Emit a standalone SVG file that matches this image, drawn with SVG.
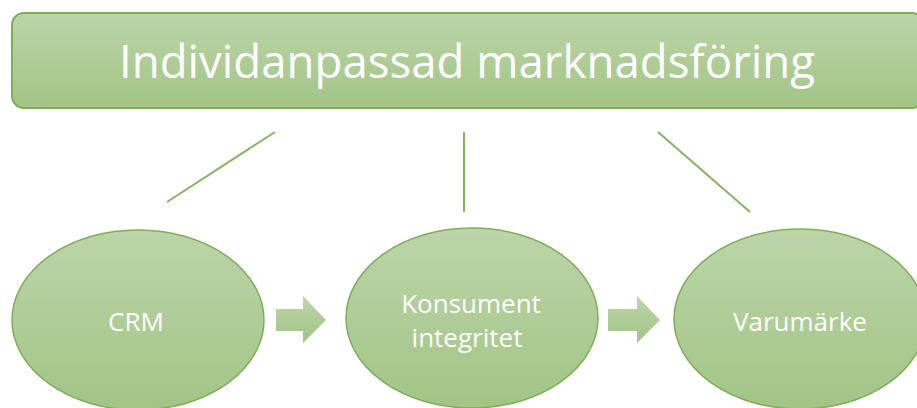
<svg xmlns="http://www.w3.org/2000/svg" width="917" height="408" viewBox="0 0 917 408">
<defs>
<linearGradient id="g" x1="0" y1="0" x2="0" y2="1">
<stop offset="0" stop-color="#bcd5a9"/>
<stop offset="1" stop-color="#a2c586"/>
</linearGradient>
<style>
.box{fill:url(#g);stroke:#7eae58;stroke-width:2}
.ell{fill:url(#g);stroke:#7eae58;stroke-width:1.5}
.arrow{fill:url(#g)}
.conn{stroke:#84b562;stroke-width:2;fill:none}
text{font-family:"Open Sans","DejaVu Sans",sans-serif;fill:#ffffff;text-anchor:middle}
.t{font-size:45.6px}
.l{font-size:26px}
</style>
</defs>
<rect width="917" height="408" fill="#ffffff"/>
<g id="title">
<rect class="box" x="12" y="13" width="912" height="95" rx="12"/>
<text class="t" x="467" y="78">Individanpassad marknadsföring</text>
</g>
<g id="connectors">
<line class="conn" x1="275" y1="132" x2="167" y2="202"/>
<line class="conn" x1="464" y1="132" x2="464" y2="212"/>
<line class="conn" x1="658" y1="132" x2="750" y2="212"/>
<polygon class="arrow" points="276,309 303,309 303,296 326,320 303,343 303,331 276,331"/>
<polygon class="arrow" points="608,309 637,309 637,296 660,320 637,343 637,331 608,331"/>
</g>
<g id="crm">
<ellipse class="ell" cx="138" cy="320" rx="126" ry="90"/>
<text class="l" x="136" y="331">CRM</text>
</g>
<g id="konsument">
<ellipse class="ell" cx="472" cy="318" rx="126" ry="90"/>
<text class="l" x="471" y="313">Konsument</text>
<text class="l" x="467" y="347">integritet</text>
</g>
<g id="varumarke">
<ellipse class="ell" cx="800" cy="319" rx="126" ry="90"/>
<text class="l" x="800" y="331">Varumärke</text>
</g>
</svg>
